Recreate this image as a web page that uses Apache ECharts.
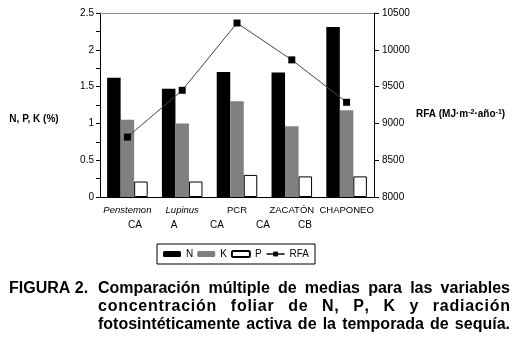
<!DOCTYPE html>
<html>
<head>
<meta charset="utf-8">
<script src="https://cdn.jsdelivr.net/npm/echarts@6/dist/echarts.min.js"></script>
<style>
  html, body { margin: 0; padding: 0; background: #fff; }
  #main { width: 514px; height: 337px; }
</style>
</head>
<body>
<div id="main"></div>
<script>
// datos
var categories = ['Penstemon', 'Lupinus', 'PCR', 'ZACATÓN', 'CHAPONEO'];
var italicCats = ['Penstemon', 'Lupinus'];
var nValues = [1.62, 1.47, 1.70, 1.69, 2.31];
var kValues = [1.05, 1.00, 1.30, 0.96, 1.18];
var pValues = [0.21, 0.21, 0.30, 0.28, 0.28];
var rfaValues = [8814, 9450, 10364, 9863, 9287];
var groupLetters = ['CA', 'A', 'CA', 'CA', 'CB'];
var leftTicks = [0, 2.5, 0.5];       // min, max, intervalo
var rightTicks = [8000, 10500, 500];

var captionHead = 'FIGURA 2.';
var captionLines = [
	'Comparación múltiple de medias para las variables',
	'concentración foliar de N, P, K y radiación',
	'fotosintéticamente activa de la temporada de sequía.'
];
var captionLetterGap = [0, 0.75, 0];

var FONT = '"Liberation Sans", Arial, sans-serif';
var CAP_FONT = 'bold 16px ' + FONT;

var myChart = echarts.init(document.getElementById('main'));

// texto justificado: espacio extra entre letras + resto entre palabras
var ctx = document.createElement('canvas').getContext('2d');
ctx.font = CAP_FONT;
function justifyLine(text, x0, x1, y, ls) {
	var words = text.split(' ');
	var widths = words.map(function(w) {
		var t = 0;
		w.split('').forEach(function(c) { t += ctx.measureText(c).width; });
		return t + ls * (w.length - 1);
	});
	var total = widths.reduce(function(a, b) { return a + b; }, 0);
	var gap = (x1 - x0 - total) / (words.length - 1);
	var x = x0, out = [];
	words.forEach(function(w, i) {
		var cx = x;
		w.split('').forEach(function(c) {
			out.push({
				type: 'text', x: cx, y: y,
				style: { text: c, font: CAP_FONT, fill: '#000', verticalAlign: 'middle' }
			});
			cx += ctx.measureText(c).width + ls;
		});
		x += widths[i] + gap;
	});
	return out;
}

var groupX = [135, 174, 217, 263, 305];
var graphics = [];
groupLetters.forEach(function(g, i) {
	graphics.push({
		type: 'text', x: groupX[i], y: 225,
		style: { text: g, font: '10px ' + FONT, fill: '#000', align: 'center', verticalAlign: 'middle' }
	});
});
graphics.push({
	type: 'text', x: 34, y: 119,
	style: { text: 'N, P, K (%)', font: 'bold 10px ' + FONT, fill: '#000', align: 'center', verticalAlign: 'middle' }
});
graphics.push({
	type: 'text', x: 416, y: 114,
	style: {
		text: '{b|RFA (MJ·m}{s|-2}{b|·año}{s|-1}{b|)}',
		verticalAlign: 'middle',
		rich: {
			b: { font: 'bold 10px ' + FONT, fill: '#000' },
			s: { font: 'bold 7px ' + FONT, fill: '#000', verticalAlign: 'top', padding: [0, 0, 4, 0] }
		}
	}
});
graphics.push({
	type: 'text', x: 9, y: 288.5,
	style: { text: captionHead, font: CAP_FONT, fill: '#000', verticalAlign: 'middle' }
});
var capY = [288.5, 306.5, 324.5];
captionLines.forEach(function(line, i) {
	graphics = graphics.concat(justifyLine(line, 98, 510, capY[i], captionLetterGap[i]));
});

option = {
	animation: false,
	grid: { left: 100, right: 140, top: 13, bottom: 140 },
	legend: {
		left: 157,
		top: 244,
		padding: [5, 6],
		itemGap: 4,
		itemWidth: 18,
		itemHeight: 6,
		borderColor: '#000',
		borderWidth: 1,
		borderRadius: 0,
		textStyle: { fontFamily: FONT, fontSize: 10, color: '#000' },
		data: ['N', 'K', 'P', 'RFA']
	},
	xAxis: [{
		type: 'category',
		data: categories,
		axisLine: { lineStyle: { color: '#000', width: 1 } },
		axisTick: { length: 4, lineStyle: { color: '#000' } },
		axisLabel: {
			margin: 8,
			interval: 0,
			fontFamily: FONT,
			fontSize: 9.5,
			color: '#000',
			formatter: function(v) {
				return italicCats.indexOf(v) >= 0 ? '{i|' + v + '}' : v;
			},
			rich: { i: { fontStyle: 'italic', fontFamily: FONT, fontSize: 9.5, color: '#000' } }
		}
	}, {
		type: 'category',
		position: 'top',
		data: categories,
		axisLine: { lineStyle: { color: '#888', width: 1 } },
		axisTick: { show: false },
		axisLabel: { show: false }
	}],
	yAxis: [{
		type: 'value',
		min: leftTicks[0],
		max: leftTicks[1],
		interval: leftTicks[2],
		axisLine: { show: true, lineStyle: { color: '#000' } },
		axisTick: { show: true, length: 4, lineStyle: { color: '#000' } },
		minorTick: { show: true, splitNumber: 2, length: 4, lineStyle: { color: '#000' } },
		splitLine: { show: false },
		axisLabel: { margin: 6, fontFamily: FONT, fontSize: 10, color: '#000' }
	}, {
		type: 'value',
		position: 'right',
		min: rightTicks[0],
		max: rightTicks[1],
		interval: rightTicks[2],
		axisLine: { show: true, lineStyle: { color: '#000' } },
		axisTick: { show: true, length: 5, lineStyle: { color: '#000' } },
		splitLine: { show: false },
		axisLabel: {
			margin: 8, fontFamily: FONT, fontSize: 10, color: '#000',
			formatter: function(v) { return String(v); }
		}
	}],
	series: [{
		name: 'N',
		type: 'bar',
		data: nValues,
		barGap: '0%',
		barCategoryGap: '26%',
		itemStyle: { color: '#000' }
	}, {
		name: 'K',
		type: 'bar',
		data: kValues,
		itemStyle: { color: '#808080' }
	}, {
		name: 'P',
		type: 'bar',
		data: pValues,
		itemStyle: { color: '#fff', borderColor: '#000', borderWidth: 1 }
	}, {
		name: 'RFA',
		type: 'line',
		yAxisIndex: 1,
		data: rfaValues,
		symbol: 'rect',
		symbolSize: 7,
		lineStyle: { color: '#444', width: 1 },
		itemStyle: { color: '#000' }
	}],
	graphic: graphics
};
myChart.setOption(option);
</script>
</body>
</html>
